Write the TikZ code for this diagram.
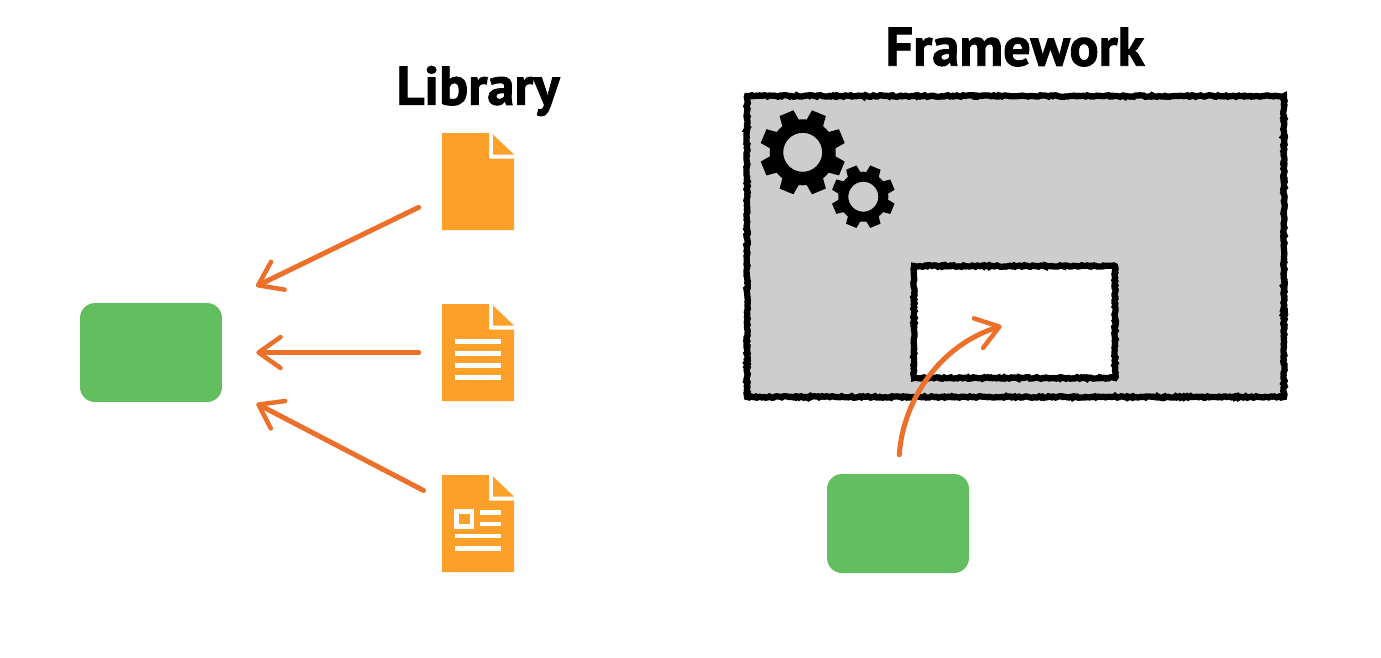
\documentclass[tikz,border=0pt]{standalone}
\usepackage{fontspec}
\setmainfont{PT Sans}[BoldFeatures={FakeBold=1.6}]
\usetikzlibrary{arrows.meta, calc, decorations.pathmorphing}
\definecolor{docorange}{HTML}{FCA02A}
\definecolor{appgreen}{HTML}{62BE5E}
\definecolor{arroworange}{HTML}{EC6F2A}
\definecolor{framegrey}{HTML}{CDCDCD}
\tikzset{
  title/.style={font=\bfseries\fontsize{31}{31}\selectfont, inner sep=0pt, text=black},
  appbox/.style={rectangle, rounded corners=0.3cm, fill=appgreen, minimum width=2.84cm, minimum height=1.98cm, inner sep=0pt},
  docbox/.style={rectangle, minimum width=1.44cm, minimum height=1.94cm, inner sep=0pt},
  framebox/.style={rectangle, draw=black, line width=0.125cm, inner sep=0pt,
                   decorate, decoration={random steps, segment length=1pt, amplitude=0.45pt}},
  flow/.style={draw=arroworange, line width=0.1cm, line cap=round,
               -{Straight Barb[length=4.4mm, width=6.2mm, line width=0.09cm, round]}},
  docline/.style={draw=white, line width=0.085cm},
  pics/docpage/.style={code={
    \fill[docorange] (-36,-48.5) -- (11,-48.5) -- (11,-23) -- (36,-23) -- (36,48.5) -- (-36,48.5) -- cycle;
    \fill[docorange] (15,-47) -- (36,-27) -- (15,-27) -- cycle;
  }},
  pics/gear/.style args={#1/#2/#3}{code={
    \fill[black, even odd rule] (7:#2)
      \foreach \a in {22.5,67.5,...,337.5} {
        -- ({\a-15.5}:#2) -- ({\a-10}:#1) -- ({\a+10}:#1) -- ({\a+15.5}:#2) -- ({\a+22.5}:#2)
      } -- cycle (0,0) circle (#3);
  }},
}
\begin{document}
\begin{tikzpicture}[x=0.02cm, y=-0.02cm]
  \useasboundingbox (0,0) rectangle (1381,657);
  % library side
  \node[title] (libtitle) at (478,91) {Library};
  \node[appbox] (appa) at (151,352.5) {};
  \node[docbox] (doca) at (478,181.5) {};
  \node[docbox] (docb) at (478,352.5) {};
  \node[docbox] (docc) at (478,523.5) {};
  \pic at (doca.center) {docpage};
  \pic at (docb.center) {docpage};
  \pic at (docc.center) {docpage};
  % text lines on the pages
  \foreach \ly in {-11,1,13,25}
    \draw[docline] ($(docb.center)+(-23.5,\ly)$) -- ($(docb.center)+(23,\ly)$);
  \foreach \ly in {12.5,25}
    \draw[docline] ($(docc.center)+(-23.5,\ly)$) -- ($(docc.center)+(23,\ly)$);
  \foreach \ly in {-11,0.5}
    \draw[docline] ($(docc.center)+(2,\ly)$) -- ($(docc.center)+(23,\ly)$);
  \draw[docline] ($(docc.center)+(-21.5,-12)$) rectangle ($(docc.center)+(-6,3)$);
  % arrows
  \draw[flow, shorten <=0.51cm, shorten >=0.75cm] (doca.202) -- (appa.north east);
  \draw[flow, shorten <=0.46cm, shorten >=0.68cm] (docb.west) -- (appa.east);
  \draw[flow, shorten <=0.41cm, shorten >=0.77cm] (docc.147) -- (appa.-25);
  % framework side
  \node[title] (fwtitle) at (1015,47) {Framework};
  \node[framebox, fill=framegrey, minimum width=10.74cm, minimum height=6.02cm] (frame) at (1015.5,246.5) {};
  \pic at (802.7,152.3) {gear=43/33/19.5};
  \pic at (863.3,196.7) {gear=32/25/15};
  \node[framebox, fill=white, minimum width=4.02cm, minimum height=2.24cm] (slot) at (1014.5,322) {};
  \node[appbox] (appb) at (898,523.5) {};
  \draw[flow, shorten <=0.38cm, shorten >=0.27cm] (appb.north) .. controls (903,400) and (940,345) .. (slot.center);
\end{tikzpicture}
\end{document}
